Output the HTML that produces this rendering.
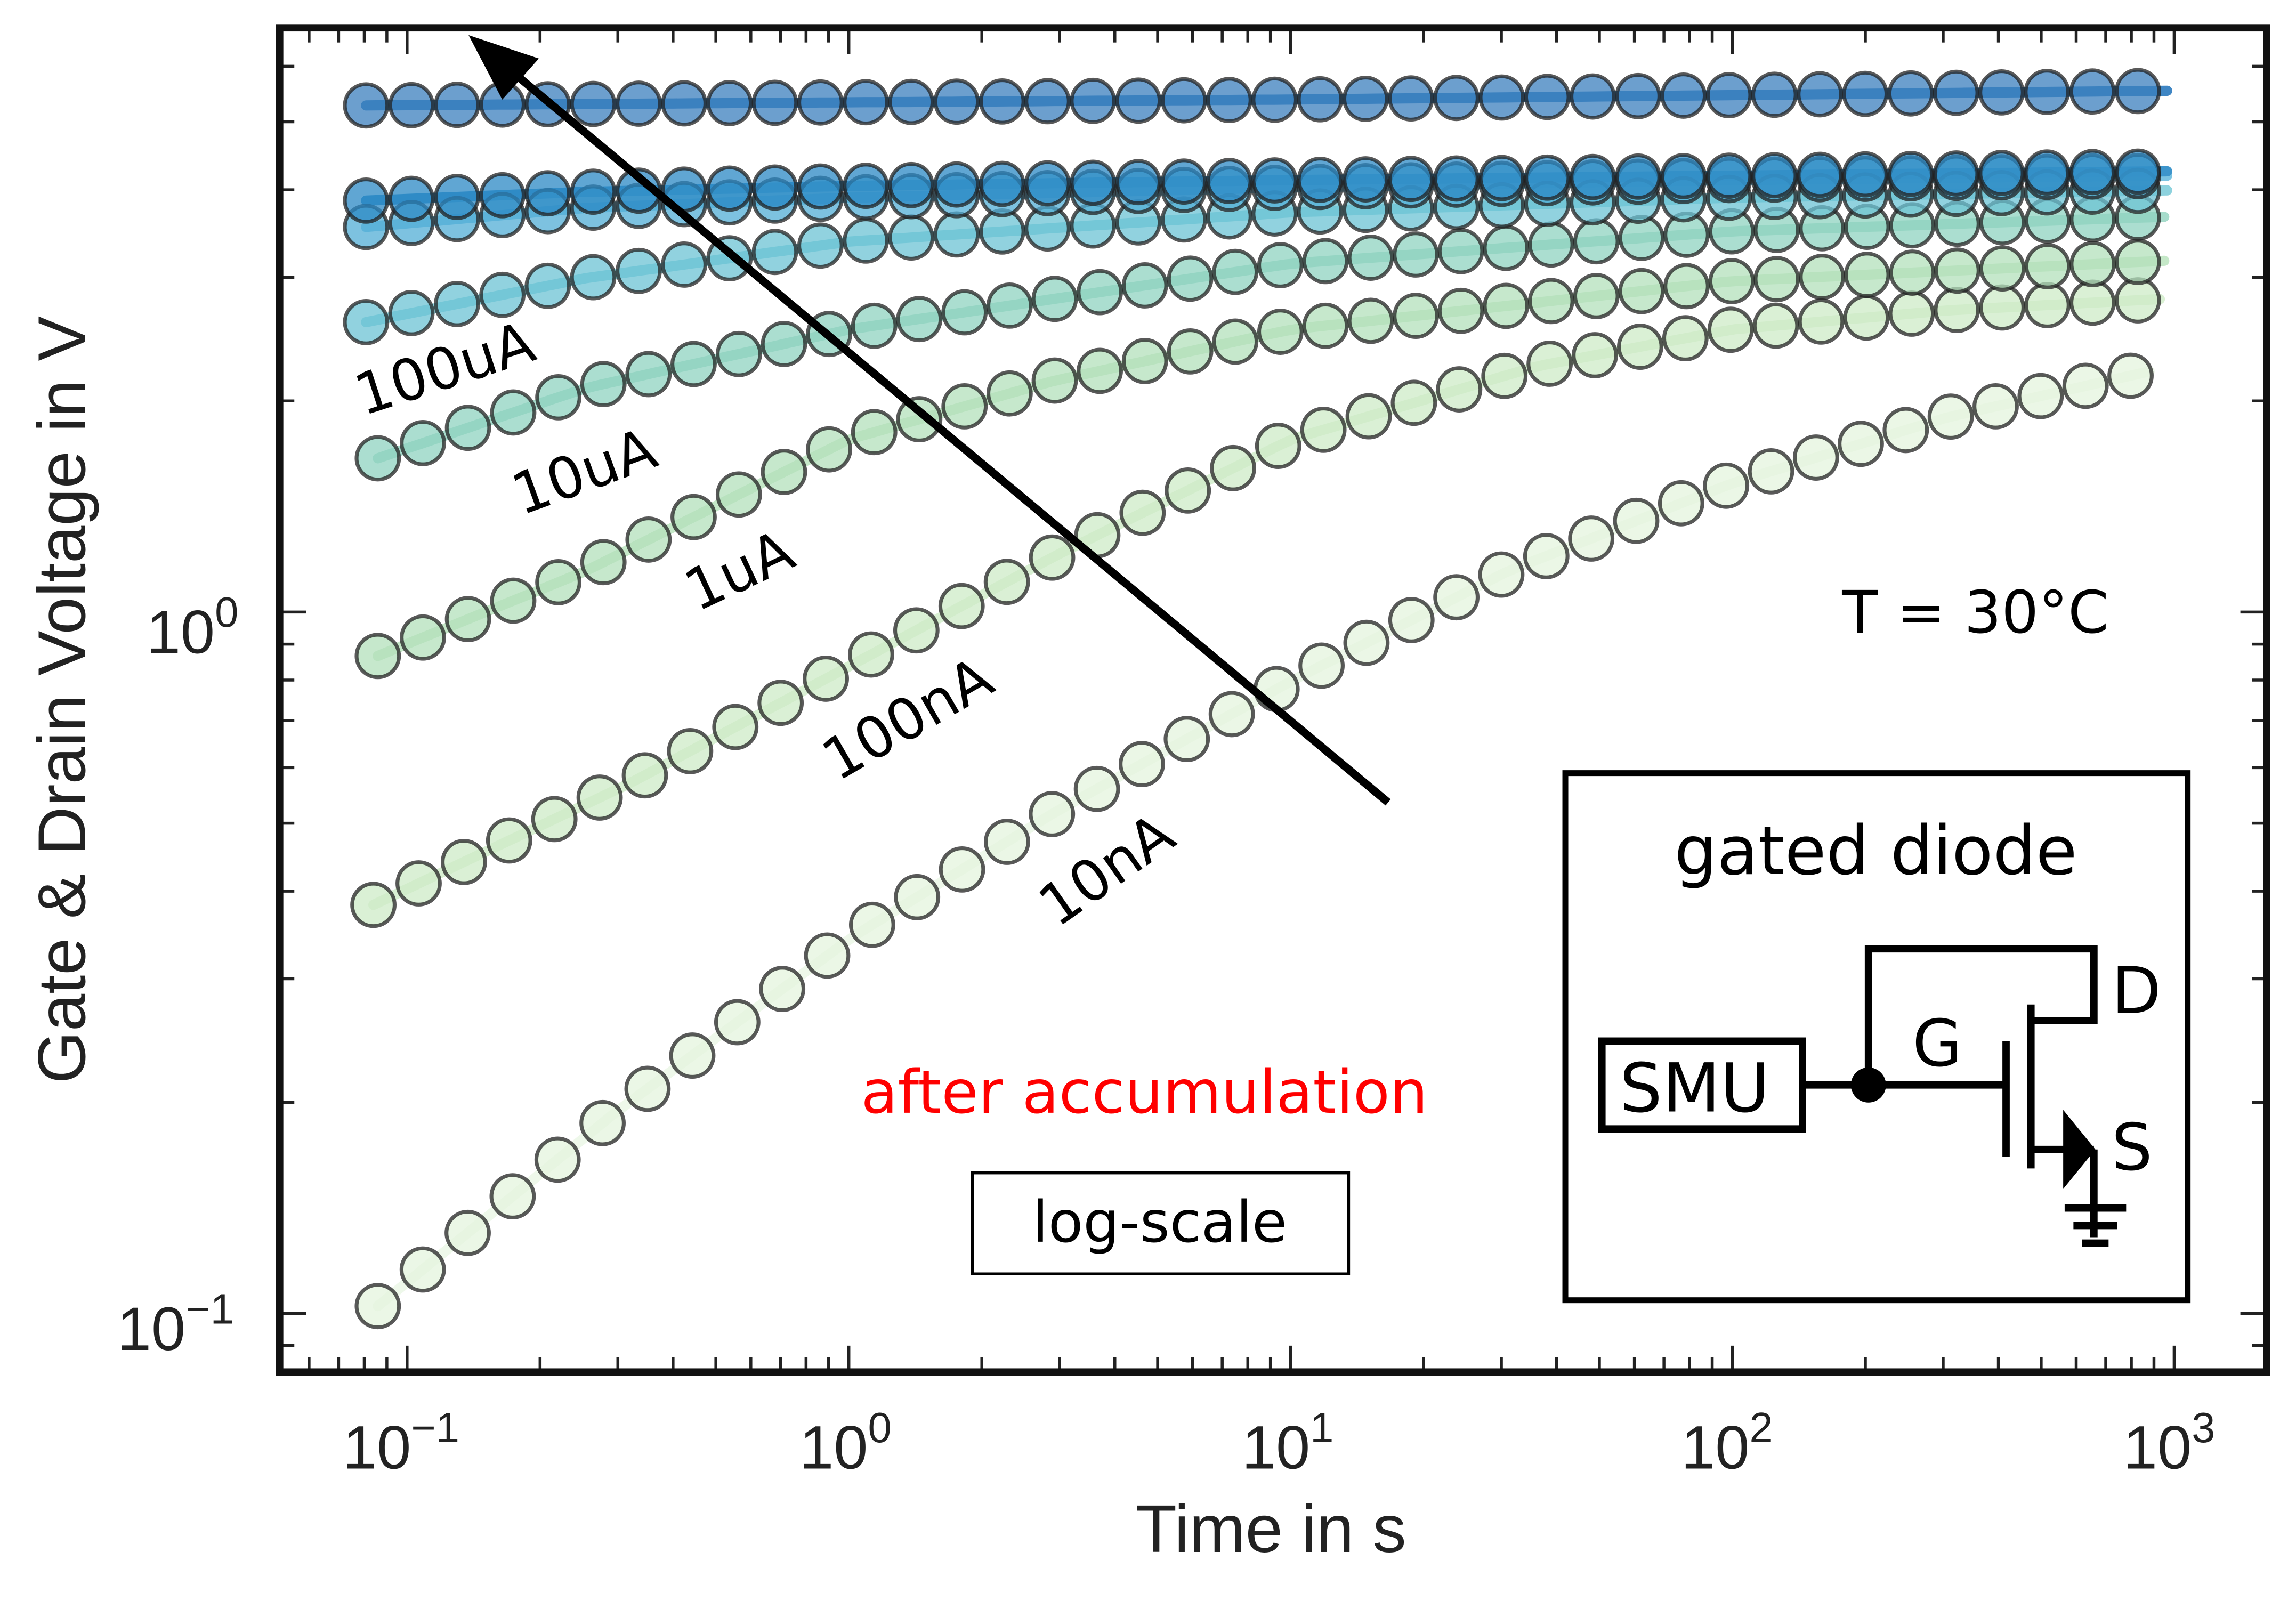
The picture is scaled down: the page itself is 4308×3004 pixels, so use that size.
<!DOCTYPE html>
<html><head><meta charset="utf-8"><style>
html,body{margin:0;padding:0;background:#fff}
svg{display:block}
text{font-family:"DejaVu Sans","Liberation Sans",sans-serif;}
.ls{font-family:"Liberation Sans",sans-serif;}
</style></head><body>
<svg id="s" xmlns="http://www.w3.org/2000/svg" width="4308" height="3004" viewBox="0 0 1568 1093.4" preserveAspectRatio="none">
<rect x="0" y="0" width="1568" height="1094" fill="#fff"/>
<g id="data"></g>
<g id="ticks" stroke="#222" stroke-width="2"></g>
<rect x="191" y="19" width="1357" height="918" fill="none" stroke="#111" stroke-width="5"/>
<!-- axis labels -->
<g fill="#222" font-size="42" class="ls">
<text class="ls" x="234" y="1003">10<tspan dy="-18" font-size="29">−1</tspan></text>
<text class="ls" x="546" y="1003">10<tspan dy="-18" font-size="29">0</tspan></text>
<text class="ls" x="848" y="1003">10<tspan dy="-18" font-size="29">1</tspan></text>
<text class="ls" x="1148" y="1003">10<tspan dy="-18" font-size="29">2</tspan></text>
<text class="ls" x="1450" y="1003">10<tspan dy="-18" font-size="29">3</tspan></text>
<text class="ls" x="100" y="446">10<tspan dy="-18" font-size="29">0</tspan></text>
<text class="ls" x="80" y="922">10<tspan dy="-18" font-size="29">−1</tspan></text>
<text class="ls" x="868" y="1060" font-size="46" text-anchor="middle">Time in s</text>
<text class="ls" transform="translate(58,478) rotate(-90)" font-size="46" text-anchor="middle">Gate &amp; Drain Voltage in V</text>
</g>
<!-- arrow -->
<line x1="948" y1="548" x2="345" y2="45" stroke="#000" stroke-width="5.5"/>
<polygon points="320,24 368,40 343,68" fill="#000"/>
<!-- series labels -->
<g fill="#000" font-size="39">
<text transform="translate(248,284) rotate(-18)">100uA</text>
<text transform="translate(356,352) rotate(-20)">10uA</text>
<text transform="translate(476,418) rotate(-25)">1uA</text>
<text transform="translate(572,534) rotate(-30)">100nA</text>
<text transform="translate(722,634) rotate(-35)">10nA</text>
<text x="1258" y="432" font-size="40">T = 30°C</text>
<text x="588" y="760" fill="#ff0000" font-size="41">after accumulation</text>
</g>
<rect x="664" y="801" width="257" height="69" fill="#fff" stroke="#000" stroke-width="2"/>
<text x="792" y="848" font-size="39" text-anchor="middle">log-scale</text>
<!-- inset -->
<rect x="1069" y="528" width="425" height="360" fill="#fff" stroke="#000" stroke-width="4"/>
<text x="1281" y="597" font-size="46" text-anchor="middle">gated diode</text>
<g stroke="#000" stroke-width="5" fill="none">
<rect x="1094" y="711" width="137" height="60"/>
<line x1="1231" y1="741" x2="1370" y2="741"/>
<polyline points="1276,741 1276,648 1430,648 1430,697 1386,697"/>
<line x1="1370" y1="711" x2="1370" y2="790"/>
<line x1="1387" y1="686" x2="1387" y2="798"/>
<line x1="1387" y1="785" x2="1430" y2="785"/>
<line x1="1430" y1="785" x2="1430" y2="845"/>
<line x1="1410" y1="825" x2="1452" y2="825"/>
<line x1="1416" y1="837" x2="1446" y2="837"/>
<line x1="1422" y1="849" x2="1440" y2="849"/>
</g>
<polygon points="1409,758 1431,785 1409,812" fill="#000"/>
<circle cx="1276" cy="741" r="12" fill="#000"/>
<g font-size="44" fill="#000">
<text x="1106" y="759" font-size="46">SMU</text>
<text x="1306" y="728">G</text>
<text x="1442" y="692">D</text>
<text x="1442" y="799">S</text>
</g>
</svg>
<script>
(function(){
var NS="http://www.w3.org/2000/svg";
var series=[
 {c:"#e4f4de",l:"#eef8ea",p:[[258,892],[420,760],[582,640],[720,555],[882,465],[1030,390],[1183,330],[1330,285],[1475,252]]},
 {c:"#cdebc7",l:"#d9f0d3",p:[[255,618],[430,535],[580,455],[720,380],[882,300],[1050,250],[1183,225],[1330,212],[1480,204]]},
 {c:"#b3e0bb",l:"#c5e8c8",p:[[258,448],[400,390],[580,300],[720,260],[882,225],[1183,192],[1480,178]]},
 {c:"#8fd3c0",l:"#a7dccc",p:[[258,313],[400,265],[580,225],[882,180],[1183,158],[1480,148]]},
 {c:"#6cc3d4",l:"#8dd2de",p:[[250,220],[400,190],[580,165],[882,145],[1183,135],[1480,130]]},
 {c:"#52aed6",l:"#7bc3e2",p:[[250,155],[400,142],[580,135],[882,128],[1183,123],[1480,120]]},
 {c:"#2b88c4",l:"#3d95cc",p:[[250,137],[400,131],[580,127],[882,123],[1183,120],[1480,117]]},
 {c:"#3b7fbe",l:"#3f86c4",p:[[250,72],[882,68],[1480,62]]}
];
function interp(p,x){for(var i=0;i<p.length-1;i++){if(x<=p[i+1][0]||i==p.length-2){var t=(x-p[i][0])/(p[i+1][0]-p[i][0]);return p[i][1]+t*(p[i+1][1]-p[i][1]);}}}
var g=document.getElementById("data");
series.forEach(function(s){
 var x0=s.p[0][0],x1=s.p[s.p.length-1][0];
 var pl=document.createElementNS(NS,"polyline");var pts=[];
 for(var x=x0;x<=x1+1;x+=10)pts.push(x+","+interp(s.p,x).toFixed(1));
 pl.setAttribute("points",pts.join(" "));pl.setAttribute("fill","none");pl.setAttribute("stroke",s.l);pl.setAttribute("stroke-width","7");pl.setAttribute("stroke-linecap","round");g.appendChild(pl);
});
series.forEach(function(s){
 var x0=s.p[0][0],x1=s.p[s.p.length-1][0]-20;
 var n=40;
 for(var i=0;i<n;i++){var x=x0+(x1-x0)*i/(n-1);
  var c=document.createElementNS(NS,"circle");c.setAttribute("cx",x.toFixed(1));c.setAttribute("cy",interp(s.p,x).toFixed(1));c.setAttribute("r","14.5");
  c.setAttribute("fill",s.c);c.setAttribute("fill-opacity","0.75");c.setAttribute("stroke","#222");c.setAttribute("stroke-opacity","0.75");c.setAttribute("stroke-width","2.6");g.appendChild(c);}
});
var t=document.getElementById("ticks");
function ln(a,b,c,d){var l=document.createElementNS(NS,"line");l.setAttribute("x1",a);l.setAttribute("y1",b);l.setAttribute("x2",c);l.setAttribute("y2",d);t.appendChild(l);}
var dx=301.7;
for(var dec=-2;dec<=3;dec++){var base=278+(dec+1)*dx;
 for(var m=1;m<10;m++){var x=base+Math.log10(m)*dx;if(x<193||x>1546)continue;var L=(m==1)?16:8;ln(x,935,x,935-L);ln(x,21,x,21+L);}}
var dy=479;
for(var dec=-2;dec<=1;dec++){var base=897-(dec+1)*dy;
 for(var m=1;m<10;m++){var y=base-Math.log10(m)*dy;if(y<21||y>935)continue;var L=(m==1)?16:8;ln(193,y,193+L,y);ln(1546,y,1546-L,y);}}
})();
</script>
</body></html>
